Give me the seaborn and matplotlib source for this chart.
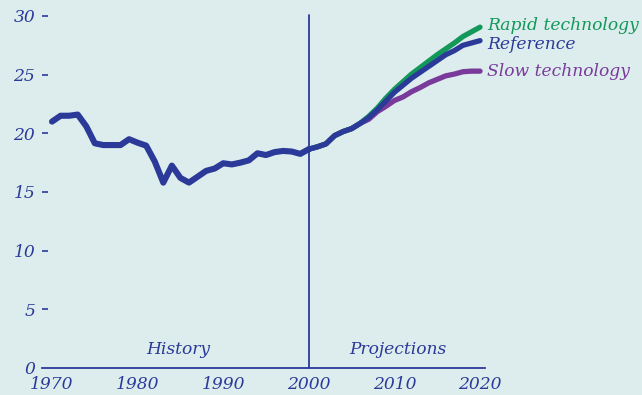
import numpy as np
import pandas as pd
import matplotlib
matplotlib.use('Agg')
import matplotlib.pyplot as plt
import seaborn as sns

# history, 1970-2000
hist_years = list(range(1970, 2001))
hist_values = [21.0, 21.5, 21.5, 21.6, 20.6, 19.15, 19.0, 19.0, 19.0, 19.5,
               19.2, 18.95, 17.6, 15.8, 17.25, 16.2, 15.8, 16.3, 16.8, 17.0,
               17.45, 17.35, 17.5, 17.7, 18.3, 18.15, 18.4, 18.5, 18.45, 18.25,
               18.65]

# projections, 2000-2020
proj_years = list(range(2000, 2021))
reference = [18.65, 18.85, 19.1, 19.8, 20.15, 20.4, 20.85, 21.35, 22.0, 22.75,
             23.5, 24.1, 24.7, 25.2, 25.7, 26.2, 26.7, 27.05, 27.5, 27.7, 27.9]
rapid_tech = [18.65, 18.85, 19.1, 19.8, 20.15, 20.4, 20.85, 21.45, 22.15, 23.0,
              23.75, 24.4, 25.05, 25.6, 26.15, 26.7, 27.2, 27.7, 28.25, 28.65, 29.05]
slow_tech = [18.65, 18.85, 19.1, 19.8, 20.15, 20.4, 20.85, 21.2, 21.85, 22.3,
             22.8, 23.1, 23.55, 23.9, 24.3, 24.6, 24.9, 25.05, 25.25, 25.3, 25.3]

series_names = ['Rapid technology', 'Reference', 'Slow technology']
label_values = [29.2, 27.55, 25.3]

BG = '#DDEDED'
BLUE = '#2B3A99'
GREEN = '#13985A'
PURPLE = '#7A3A9B'
colors = {'Rapid technology': GREEN, 'Reference': BLUE, 'Slow technology': PURPLE}

sns.set_style('white')
plt.rcParams['font.family'] = ['DejaVu Serif']
plt.rcParams['font.style'] = 'italic'

hist_df = pd.DataFrame({'year': hist_years, 'value': hist_values})
proj_df = pd.DataFrame({
    'year': proj_years * 3,
    'value': rapid_tech + reference + slow_tech,
    'case': ['Rapid technology'] * 21 + ['Reference'] * 21 + ['Slow technology'] * 21,
})

fig = plt.figure(figsize=(6.42, 3.95), dpi=100, facecolor=BG)
ax = fig.add_axes([42 / 642, 27 / 395, 443 / 642, 352 / 395])
ax.set_facecolor(BG)

for name in ['Slow technology', 'Rapid technology', 'Reference']:
    sns.lineplot(data=proj_df[proj_df['case'] == name], x='year', y='value',
                 color=colors[name], linewidth=3.8, ax=ax, legend=False)
sns.lineplot(data=hist_df, x='year', y='value', color=BLUE, linewidth=4.4,
             ax=ax, legend=False)

ax.axvline(2000, ymin=0, ymax=1.003, color=BLUE, linewidth=1.3, clip_on=False)

ax.set_xlim(1968.83, 2020.58)
ax.set_ylim(0, 30)
ax.set_xticks([1970, 1980, 1990, 2000, 2010, 2020])
ax.set_yticks([0, 5, 10, 15, 20, 25, 30])
ax.set_xlabel('')
ax.set_ylabel('')

for s in ['top', 'right', 'left']:
    ax.spines[s].set_visible(False)
ax.spines['bottom'].set_color(BLUE)
ax.spines['bottom'].set_linewidth(1.3)

ax.tick_params(axis='y', left=True, direction='in', length=4.3, width=1.2,
               color=BLUE, labelcolor=BLUE, labelsize=12.3, pad=5)
ax.tick_params(axis='x', bottom=False, length=0, labelcolor=BLUE,
               labelsize=12.3, pad=6)
ax.yaxis.get_major_ticks()[0].tick1line.set_visible(False)

for name, yv in zip(series_names, label_values):
    ax.text(2020.8, yv, name, color=colors[name], fontsize=12.3,
            va='center', ha='left', clip_on=False)

ax.text(1984.7, 1.6, 'History', color=BLUE, fontsize=12.3, ha='center', va='center')
ax.text(2010.4, 1.6, 'Projections', color=BLUE, fontsize=12.3, ha='center', va='center')

fig.savefig('out.png', dpi=100, facecolor=BG)
